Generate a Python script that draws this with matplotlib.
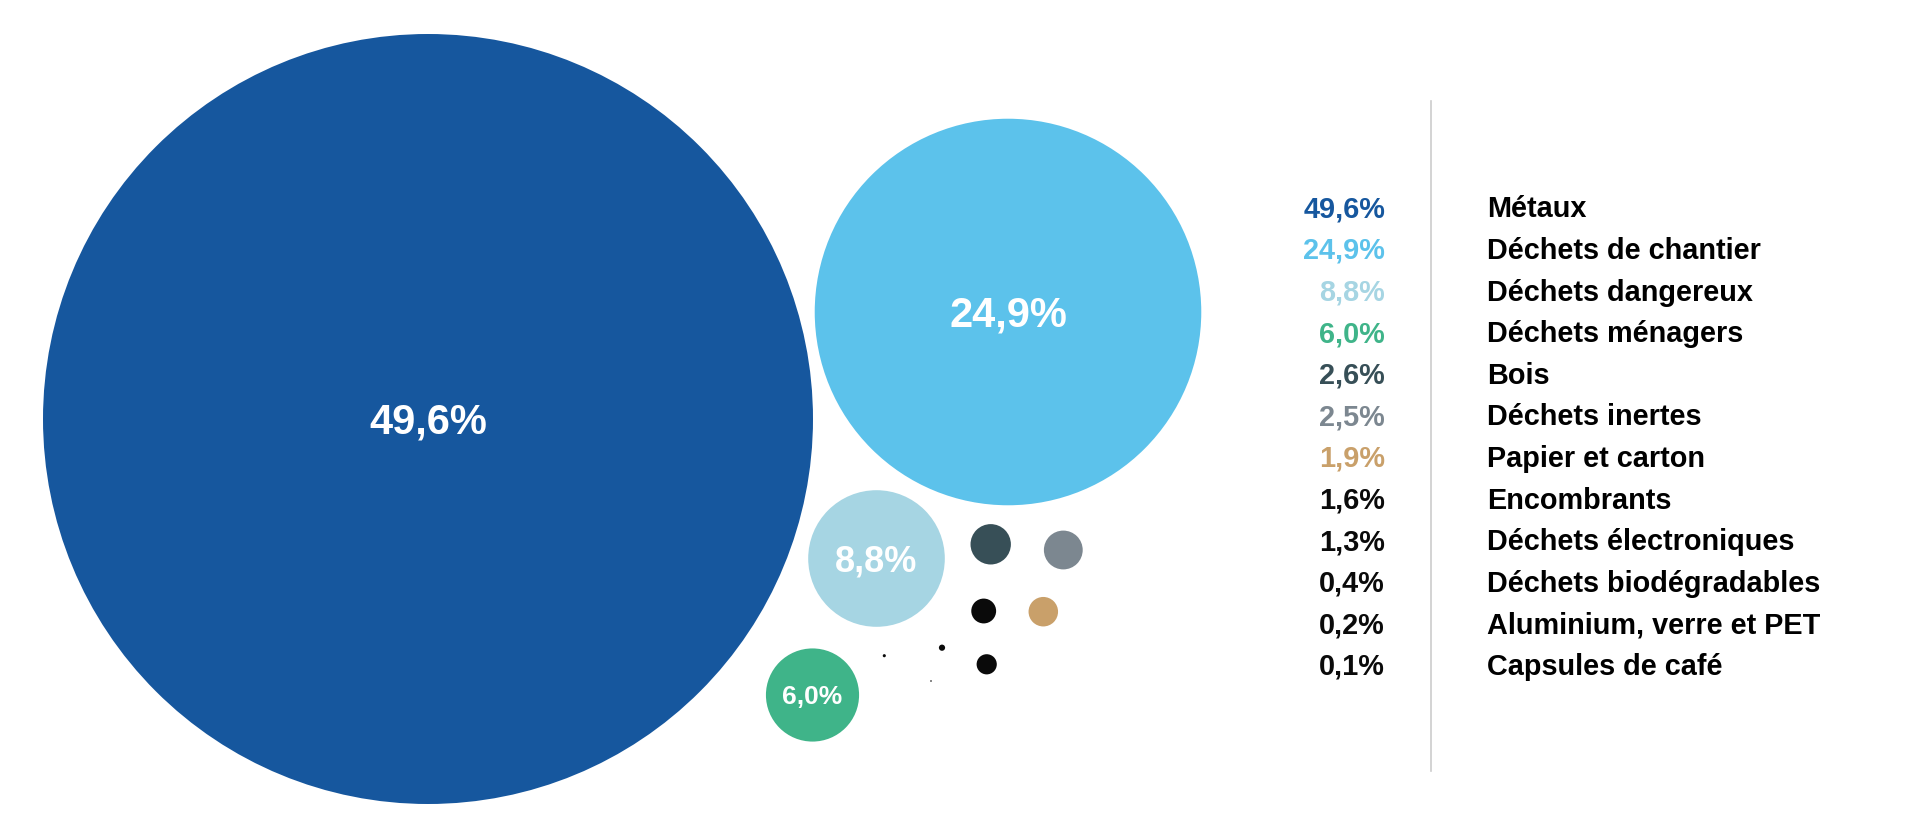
import matplotlib.pyplot as plt
from matplotlib.patches import Circle

# data
categories = ["Métaux", "Déchets de chantier", "Déchets dangereux", "Déchets ménagers",
              "Bois", "Déchets inertes", "Papier et carton", "Encombrants",
              "Déchets électroniques", "Déchets biodégradables",
              "Aluminium, verre et PET", "Capsules de café"]
values = [49.6, 24.9, 8.8, 6.0, 2.6, 2.5, 1.9, 1.6, 1.3, 0.4, 0.2, 0.1]
value_labels = ["49,6%", "24,9%", "8,8%", "6,0%", "2,6%", "2,5%", "1,9%",
                "1,6%", "1,3%", "0,4%", "0,2%", "0,1%"]

# style / layout
colors = ["#16579e", "#5cc2eb", "#a6d5e3", "#3fb489", "#374f57", "#7c8790",
          "#c9a06a", "#0a0a0a", "#0a0a0a", "#0a0a0a", "#0a0a0a", "#0a0a0a"]
centers = [(428, 419), (1008, 312), (876.5, 558.5), (812.5, 695),
           (990.7, 544.3), (1063.3, 550), (1043.3, 611.7), (983.7, 611),
           (986.7, 664.3), (942, 647.7), (884.3, 655.7), (931, 681)]
inner_size = [30, 30, 26, 19]   # only the 4 big bubbles carry a label
px_per_unit = 385 / 49.6        # radius scales with the value

W, H = 1927, 839
fig = plt.figure(figsize=(W / 100, H / 100), dpi=100)
ax = fig.add_axes([0, 0, 1, 1])
ax.set_xlim(0, W)
ax.set_ylim(H, 0)
ax.set_aspect("equal")
ax.axis("off")

FONT = "Liberation Sans"

for i, v in enumerate(values):
    cx, cy = centers[i]
    ax.add_patch(Circle((cx, cy), v * px_per_unit, color=colors[i], lw=0))
    if i < len(inner_size):
        fs = inner_size[i]
        cap = fs * 100 / 72 * 0.716
        ax.text(cx, cy + cap / 2, value_labels[i], color="white", fontsize=fs,
                fontweight="bold", family=FONT, ha="center", va="baseline")

# legend block
row0, step = 207, 41.6
legend_fs = 20.8
cap = legend_fs * 100 / 72 * 0.716
for i, (lab, vl) in enumerate(zip(categories, value_labels)):
    y = row0 + step * i + cap / 2
    ax.text(1385, y, vl, color=colors[i], fontsize=legend_fs, fontweight="bold",
            family=FONT, ha="right", va="baseline")
    ax.text(1487, y, lab, color="black", fontsize=legend_fs, fontweight="bold",
            family=FONT, ha="left", va="baseline")

ax.plot([1431, 1431], [101, 771], color="#cccccc", lw=1.2)

fig.savefig("out.png", dpi=100, facecolor="white")
